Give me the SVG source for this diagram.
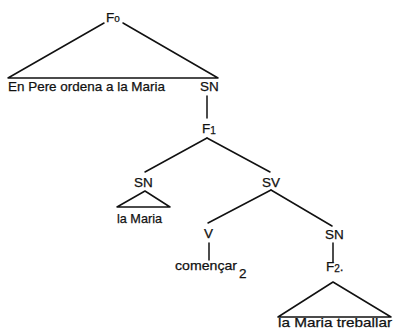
<svg xmlns="http://www.w3.org/2000/svg" width="393" height="334" viewBox="0 0 393 334">
  <style>
    .lbl { font-family: "Liberation Sans", Arial, sans-serif; font-size: 13.5px; fill: #111; stroke: #111; stroke-width: 0.25; }
    .sub { font-size: 10px; }
    .edge { stroke: #111; stroke-width: 1.5; fill: none; stroke-linecap: round; stroke-linejoin: round; }
  </style>
  <rect width="393" height="334" fill="#fff"/>

  <!-- connectors -->
  <g id="connectors">
    <path class="edge" d="M104,23 L8,78 L218,78 L123,23"/>
    <path class="edge" d="M207,96 L207,118"/>
    <path class="edge" d="M207,138 L145,172"/>
    <path class="edge" d="M207,138 L270,172"/>
    <path class="edge" d="M145,191 L117,207 L170,207 Z"/>
    <path class="edge" d="M271,190 L208,223"/>
    <path class="edge" d="M271,190 L332,226"/>
    <path class="edge" d="M209,243 L209,260"/>
    <path class="edge" d="M333,243 L333,262"/>
    <path class="edge" d="M333,282 L278,317 L391,317 Z"/>
  </g>

  <!-- nodes -->
  <g id="f0"><text class="lbl" x="106" y="22">F<tspan class="sub">o</tspan></text></g>
  <g id="f0-text"><text class="lbl" x="8" y="91" textLength="157" lengthAdjust="spacingAndGlyphs">En Pere ordena a la Maria</text></g>
  <g id="sn0"><text class="lbl" x="200" y="91">SN</text></g>
  <g id="f1"><text class="lbl" x="202" y="133">F<tspan class="sub" dy="1">1</tspan></text></g>
  <g id="sn1"><text class="lbl" x="134" y="187">SN</text></g>
  <g id="sn1-text"><text class="lbl" x="117" y="223" textLength="45" lengthAdjust="spacingAndGlyphs">la Maria</text></g>
  <g id="sv"><text class="lbl" x="262" y="187">SV</text></g>
  <g id="v"><text class="lbl" x="204" y="238">V</text></g>
  <g id="v-text"><text class="lbl" x="175" y="270"><tspan textLength="62" lengthAdjust="spacingAndGlyphs">començar</tspan><tspan x="239" dy="8">2</tspan></text></g>
  <g id="sn2"><text class="lbl" x="325" y="239">SN</text></g>
  <g id="f2"><text class="lbl" x="326" y="271">F<tspan class="sub" dy="1">2</tspan><tspan dy="-1">.</tspan></text></g>
  <g id="f2-text"><text class="lbl" x="278" y="327" textLength="114" lengthAdjust="spacingAndGlyphs">la Maria treballar</text></g>
</svg>
